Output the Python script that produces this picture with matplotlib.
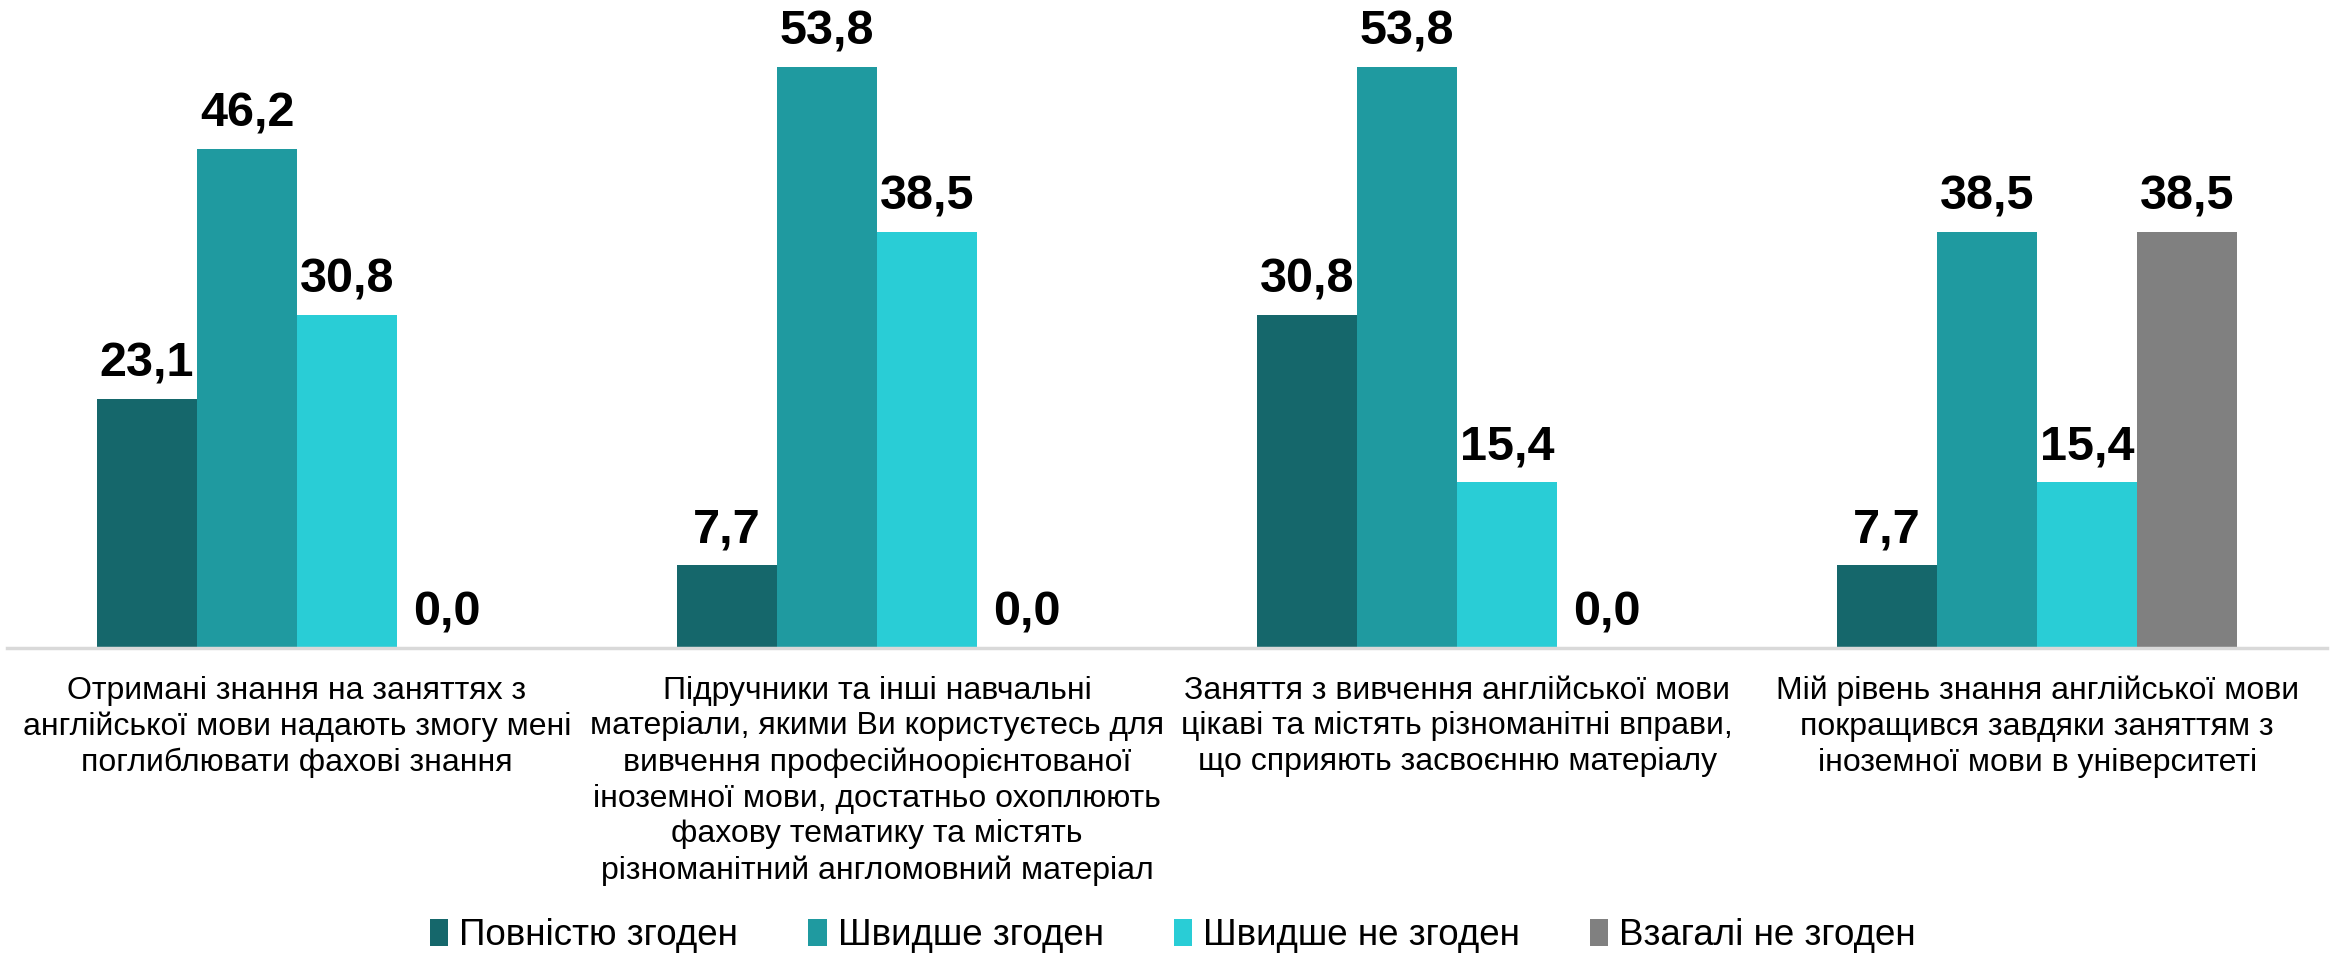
import matplotlib.pyplot as plt
import numpy as np

plt.rcParams['font.family'] = ['Liberation Sans', 'DejaVu Sans']

categories = [
    "Отримані знання на заняттях з\nанглійської мови надають змогу мені\nпоглиблювати фахові знання",
    "Підручники та інші навчальні\nматеріали, якими Ви користуєтесь для\nвивчення професійноорієнтованої\n"
    "іноземної мови, достатньо охоплюють\nфахову тематику та містять\nрізноманітний англомовний матеріал",
    "Заняття з вивчення англійської мови\nцікаві та містять різноманітні вправи,\nщо сприяють засвоєнню матеріалу",
    "Мій рівень знання англійської мови\nпокращився завдяки заняттям з\nіноземної мови в університеті",
]
series = ["Повністю згоден", "Швидше згоден", "Швидше не згоден", "Взагалі не згоден"]
povnistyu = [23.1, 7.7, 30.8, 7.7]
shvydshe_z = [46.2, 53.8, 53.8, 38.5]
shvydshe_ne = [30.8, 38.5, 15.4, 15.4]
vzagali_ne = [0.0, 0.0, 0.0, 38.5]
colors = ["#15676b", "#1f9aa0", "#29cdd6", "#808080"]

fig = plt.figure(figsize=(23.46, 9.55), dpi=100)

# background gradient
bg = fig.add_axes([0, 0, 1, 1], zorder=0)
grad = np.linspace(0, 1, 256)
grad = np.clip((grad - 0.08) / 0.92, 0, 1)
vals = 1.0 - grad * (1.0 - 0.85)
img = np.dstack([vals, vals, vals])[:, :1, :].repeat(2, axis=1)
bg.imshow(img, aspect='auto', extent=[0, 1, 0, 1], origin='upper')
bg.axis('off')

ax = fig.add_axes([0.003, 0.3215, 0.989, 0.6785], zorder=1)
ax.patch.set_alpha(0)

x = np.arange(len(categories))
w = 0.1724
data = [povnistyu, shvydshe_z, shvydshe_ne, vzagali_ne]
for i, (vals_, name, c) in enumerate(zip(data, series, colors)):
    bars = ax.bar(x + (i - 1.5) * w, vals_, w, color=c, label=name)
    ax.bar_label(bars, labels=[f"{v:.1f}".replace('.', ',') for v in vals_],
                 padding=9, fontsize=35, fontweight='bold', color='black')

ax.set_xlim(-0.5, 3.5)
ax.set_ylim(0, 60)
ax.set_yticks([])
ax.set_xticks(x)
ax.set_xticklabels(categories, fontsize=23, linespacing=1.25, va='top')
ax.tick_params(axis='x', length=0, pad=20)
for s in ['top', 'right', 'left']:
    ax.spines[s].set_visible(False)
ax.spines['bottom'].set_color('#d9d9d9')
ax.spines['bottom'].set_linewidth(2.5)

fig.legend(loc='center', bbox_to_anchor=(0.5, 0.02), ncol=4, frameon=False,
           fontsize=26.5, handlelength=0.5, handleheight=0.75, handletextpad=0.3,
           columnspacing=1.9, borderpad=0.1)

fig.savefig('out.png', dpi=100)
